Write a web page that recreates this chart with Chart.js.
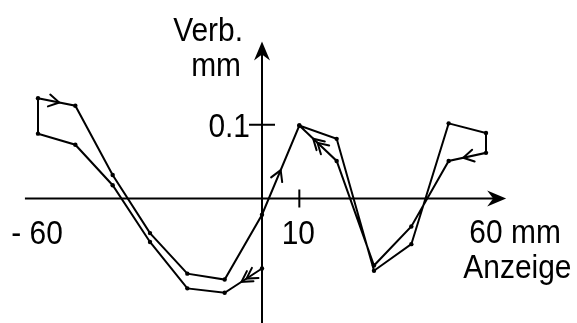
<!DOCTYPE html>
<html>
<head>
<meta charset="utf-8">
<title>Verb. / Anzeige</title>
<script src="https://cdn.jsdelivr.net/npm/chart.js@4/dist/chart.umd.min.js"></script>
<style>
  html, body { margin: 0; padding: 0; background: #fff; }
  #wrap { width: 577px; height: 323px; position: relative; }
</style>
</head>
<body>
<div id="wrap"><canvas id="hystChart"></canvas></div>
<script>
// Messweg: Start bei 0, nach -60, dann bis +60 und zurück bis 10 mm
const anzeige = [0, -10, -20, -30, -40, -50, -60, -60, -50, -40, -30, -20, -10, 0, 10, 20, 30, 40, 50, 60, 60, 50, 40, 30, 20, 10];
const verb = [-0.095, -0.128, -0.122, -0.059, 0.018, 0.073, 0.088, 0.136, 0.126, 0.032, -0.047, -0.102, -0.110, -0.022, 0.099, 0.081, -0.098, -0.062, 0.102, 0.089, 0.062, 0.051, -0.038, -0.091, 0.051, 0.099];

// beschriftete Achsenwerte
const xTickValues = [-60, 10, 60];
const xTickLabels = ['- 60', '10', '60 mm'];
const yTickValues = [0.1];
const yTickLabels = ['0.1'];

// Richtungspfeile: Segment (Startindex), Lage auf dem Segment, doppelt?
const dirArrows = [
  { seg: 0, t: 0.55, double: true },
  { seg: 7, t: 0.57, double: false },
  { seg: 13, t: 0.5, double: false },
  { seg: 20, t: 0.61, double: false },
  { seg: 24, t: 0.63, double: true }
];

const FONT = "34px 'Liberation Sans', Arial, sans-serif";
const SQUEEZE = 0.88;

function textW(ctx, s) {
  ctx.font = FONT;
  return ctx.measureText(s).width * SQUEEZE;
}

function drawText(ctx, s, x, y, align) {
  ctx.save();
  ctx.font = FONT;
  ctx.fillStyle = '#000';
  ctx.textBaseline = 'alphabetic';
  ctx.textAlign = align;
  ctx.translate(x, y);
  ctx.scale(SQUEEZE, 1);
  ctx.fillText(s, 0, 0);
  ctx.restore();
}

// gefüllte Pfeilspitze mit Kerbe
function arrowHead(ctx, tx, ty, ang) {
  const len = 19, half = 8, notch = 6;
  ctx.save();
  ctx.translate(tx, ty);
  ctx.rotate(ang);
  ctx.beginPath();
  ctx.moveTo(0, 0);
  ctx.lineTo(-len, -half);
  ctx.lineTo(-len + notch, 0);
  ctx.lineTo(-len, half);
  ctx.closePath();
  ctx.fillStyle = '#000';
  ctx.fill();
  ctx.restore();
}

// offener Winkel auf der Messkurve
function chevron(ctx, tx, ty, ang) {
  const arm = 12, spread = Math.PI / 6;
  ctx.beginPath();
  ctx.moveTo(tx - arm * Math.cos(ang - spread), ty - arm * Math.sin(ang - spread));
  ctx.lineTo(tx, ty);
  ctx.lineTo(tx - arm * Math.cos(ang + spread), ty - arm * Math.sin(ang + spread));
  ctx.stroke();
}

const axesPlugin = {
  id: 'axesPlugin',
  beforeDatasetsDraw(chart) {
    const { ctx, scales: { x, y } } = chart;
    const x0 = x.getPixelForValue(0);
    const y0 = y.getPixelForValue(0);
    const xl = x.getPixelForValue(-63.5), xr = x.getPixelForValue(65.4);
    const yb = y.getPixelForValue(-0.17), yt = y.getPixelForValue(0.213);

    ctx.save();
    ctx.strokeStyle = '#000';
    ctx.lineWidth = 2;
    ctx.beginPath();
    ctx.moveTo(xl, y0);
    ctx.lineTo(xr - 8, y0);
    ctx.moveTo(x0, yb);
    ctx.lineTo(x0, yt + 8);
    ctx.stroke();
    arrowHead(ctx, xr, y0, 0);
    arrowHead(ctx, x0, yt, -Math.PI / 2);

    // Teilstriche quer über die Achsen
    ctx.beginPath();
    const px10 = x.getPixelForValue(10);
    ctx.moveTo(px10, y0 - 9);
    ctx.lineTo(px10, y0 + 9);
    yTickValues.forEach(v => {
      const py = y.getPixelForValue(v);
      ctx.moveTo(x0 - 13, py);
      ctx.lineTo(x0 + 13, py);
    });
    ctx.stroke();

    // Beschriftung
    xTickValues.forEach((v, i) => {
      const px = x.getPixelForValue(v);
      const lbl = xTickLabels[i];
      if (lbl.indexOf('mm') > -1) {
        const w = textW(ctx, lbl.split(' ')[0]);
        drawText(ctx, lbl, px - w / 2, y0 + 44, 'left');
      } else {
        drawText(ctx, lbl, px - 1, y0 + 45, 'center');
      }
    });
    yTickValues.forEach((v, i) => {
      drawText(ctx, yTickLabels[i], x0 - 12, y.getPixelForValue(v) + 12, 'right');
    });
    drawText(ctx, 'Verb.', x0 - 19, yt - 1, 'right');
    drawText(ctx, 'mm', x0 - 21, yt + 34, 'right');
    const ax = x.getPixelForValue(60) - textW(ctx, '60') / 2 - 6;
    drawText(ctx, 'Anzeige', ax, y0 + 79, 'left');
    ctx.restore();
  },
  afterDatasetsDraw(chart) {
    const { ctx, scales: { x, y } } = chart;
    ctx.save();
    ctx.strokeStyle = '#000';
    ctx.lineWidth = 2;
    ctx.lineCap = 'round';
    dirArrows.forEach(a => {
      const ax = x.getPixelForValue(anzeige[a.seg]), ay = y.getPixelForValue(verb[a.seg]);
      const bx = x.getPixelForValue(anzeige[a.seg + 1]), by = y.getPixelForValue(verb[a.seg + 1]);
      const ang = Math.atan2(by - ay, bx - ax);
      const tx = ax + (bx - ax) * a.t, ty = ay + (by - ay) * a.t;
      chevron(ctx, tx, ty, ang);
      if (a.double) {
        chevron(ctx, tx - 6 * Math.cos(ang), ty - 6 * Math.sin(ang), ang);
      }
    });
    ctx.restore();
  }
};

const ctx = document.getElementById('hystChart').getContext('2d');
const hystChart = new Chart(ctx, {
  type: 'scatter',
  data: {
    datasets: [
      {
        data: anzeige.map((v, i) => ({ x: v, y: verb[i] })),
        showLine: true,
        borderColor: '#000',
        backgroundColor: '#000',
        borderWidth: 2,
        pointRadius: 2.2,
        pointBorderWidth: 0,
        pointBackgroundColor: '#000',
        tension: 0,
        clip: false,
      },
    ],
  },
  options: {
    responsive: true,
    maintainAspectRatio: false,
    animation: false,
    events: [],
    layout: {
      padding: { left: 38, right: 91, top: 88, bottom: 14 },
    },
    scales: {
      x: { type: 'linear', min: -60, max: 60, display: false },
      y: { type: 'linear', min: -0.15, max: 0.15, display: false },
    },
    plugins: {
      legend: { display: false },
      tooltip: { enabled: false },
    },
  },
  plugins: [axesPlugin],
});
</script>
</body>
</html>
